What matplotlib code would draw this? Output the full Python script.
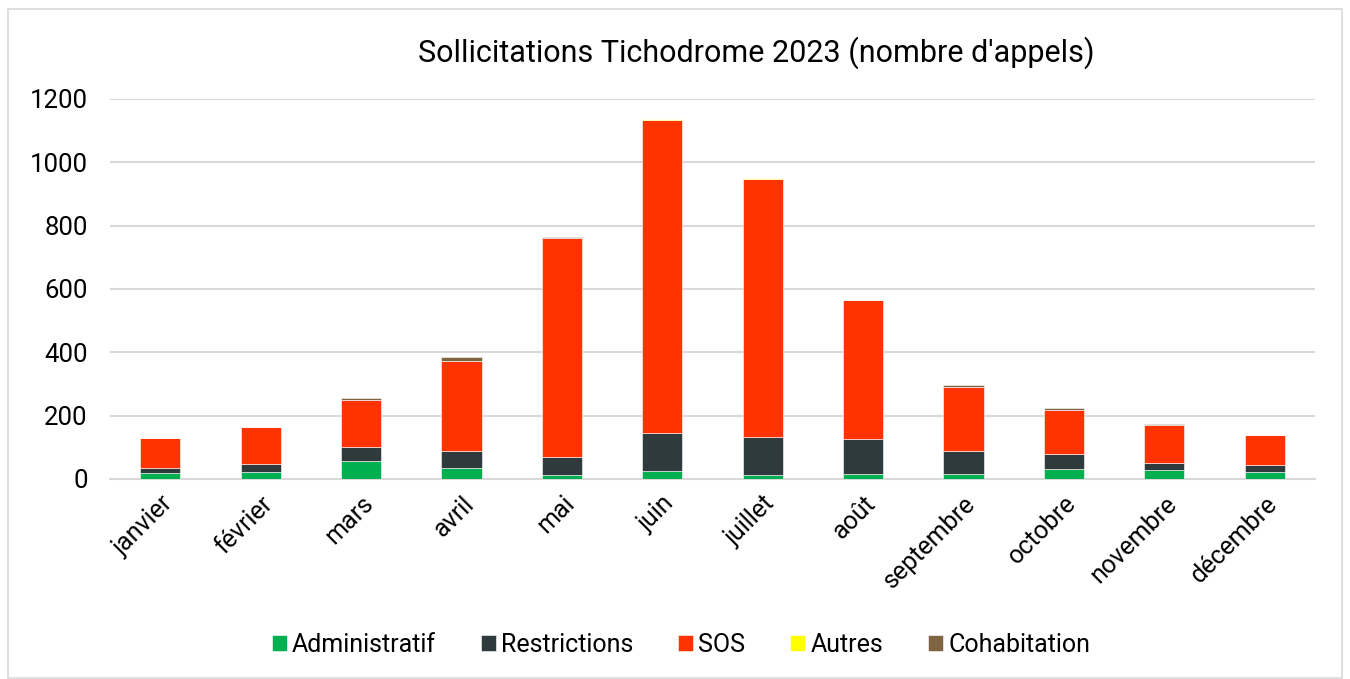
import matplotlib
matplotlib.use("Agg")
import matplotlib.pyplot as plt
from matplotlib.patches import Rectangle
import numpy as np

months = ["janvier", "février", "mars", "avril", "mai", "juin", "juillet",
          "août", "septembre", "octobre", "novembre", "décembre"]
administratif = [18, 23, 57, 34, 13, 25, 13, 17, 16, 32, 27, 22]
restrictions = [18, 23, 43, 56, 55, 121, 119, 110, 74, 48, 24, 23]
sos = [93, 117, 150, 283, 692, 987, 815, 438, 200, 137, 118, 94]
autres = [0, 0, 0, 0, 0, 3, 2, 0, 0, 0, 0, 0]
cohabitation = [1, 1, 5, 13, 5, 0, 1, 1, 7, 6, 6, 1]

series_names = ["Administratif", "Restrictions", "SOS", "Autres", "Cohabitation"]
series_colors = ["#00B050", "#2F3A3C", "#FF3300", "#FFFF00", "#7F6441"]
yticks = [0, 200, 400, 600, 800, 1000, 1200]

plt.rcParams['font.family'] = ['Roboto', 'DejaVu Sans']

fig = plt.figure(figsize=(13.5, 6.79), dpi=100)
ax = fig.add_axes([110/1350, 1 - 479/679, 1205/1350, 380/679])

x = np.arange(len(months))
bottom = np.zeros(len(months))
data = [administratif, restrictions, sos, autres, cohabitation]
for name, vals, col in zip(series_names, data, series_colors):
    vals = np.array(vals, dtype=float)
    ax.bar(x, vals, width=0.4, bottom=bottom, color=col, label=name,
           edgecolor="#FFFFFF", linewidth=0.4, zorder=3)
    bottom += vals

ax.set_xlim(-0.5, len(months) - 0.5)
ax.set_ylim(0, 1200)
ax.set_yticks(yticks)
ax.set_yticklabels([str(t) for t in yticks], fontsize=18.5, color="#000000")
ax.set_xticks(x)
ax.set_xticklabels(months, rotation=45, ha="right", rotation_mode="anchor",
                   fontsize=18, color="#000000")
ax.tick_params(axis="both", length=0)
ax.tick_params(axis="x", pad=9)
ax.tick_params(axis="y", pad=16)
ax.grid(axis="y", color="#D9D9D9", linewidth=1.5, zorder=0)
for s in ["top", "right", "left"]:
    ax.spines[s].set_visible(False)
ax.spines["bottom"].set_color("#D9D9D9")
ax.spines["bottom"].set_linewidth(1.5)
ax.set_axisbelow(True)

fig.text(756/1350, 1 - 53/679, "Sollicitations Tichodrome 2023 (nombre d'appels)",
         ha="center", va="center", fontsize=22, color="#000000")

handles, labels = ax.get_legend_handles_labels()
fig.legend(handles, labels, loc="center", bbox_to_anchor=(681/1350, 1 - 645/679),
           ncol=5, frameon=False, fontsize=18, handlelength=0.6, handleheight=0.6,
           handletextpad=0.2, columnspacing=1.8)

fig.add_artist(Rectangle((8/1350, 0.002), 1 - 16/1350, 1 - 10/679, transform=fig.transFigure,
                         fill=False, edgecolor="#D9D9D9", linewidth=1.2))

fig.savefig("out.png", dpi=100, facecolor="white")
